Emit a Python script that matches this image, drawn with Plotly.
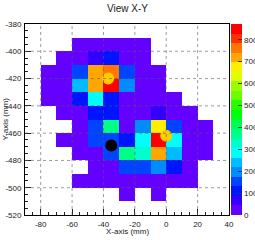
import colorsys
import plotly.graph_objects as go

# ---------------- data ----------------
x_centers = [-85, -75, -65, -55, -45, -35, -25, -15, -5, 5, 15, 25, 35]
# rows listed from top (y=-385) to bottom (y=-515)
y_centers_top_down = [-385, -395, -405, -415, -425, -435, -445, -455, -465, -475, -485, -495, -505, -515]
N = None
z_top_down = [
    [N, N, N, N, N, N, N, N, N, N, N, N, N],                      # -385
    [N, N, N, 18, 22, 25, 15, 12, N, N, N, N, N],                 # -395
    [N, N, 14, 20, 65, 108, 22, 16, N, N, N, N, N],               # -405
    [N, 12, 20, 152, 718, 762, 152, 20, 14, N, N, N, N],          # -415
    [N, 15, 24, 239, 718, 848, 196, 25, 18, N, N, N, N],          # -425
    [N, 13, 22, 108, 283, 108, 30, 22, 20, 12, N, N, N],          # -435
    [N, N, 16, 28, 108, 108, 25, 35, 65, 22, 14, N, N],           # -445
    [N, N, N, 20, 152, 370, 30, 196, 674, 152, 26, 15, N],        # -455
    [N, N, 12, 22, 152, 152, 109, 283, 848, 283, 30, 18, N],      # -465
    [N, N, N, 15, 35, 152, 370, 326, 718, 239, 28, 14, N],        # -475
    [N, N, N, N, 22, 30, 152, 152, 196, 109, 20, N, N],           # -485
    [N, N, N, 12, 18, 22, 30, 26, 32, 20, 14, N, N],              # -495
    [N, N, N, N, N, N, 14, N, 16, N, N, N, N],                    # -505
    [N, N, N, N, N, N, N, N, N, N, N, N, N],                      # -515
]
y_centers = list(reversed(y_centers_top_down))
z_values = list(reversed(z_top_down))

marker_x = [-37, 0, -35]
marker_y = [-420, -462, -469]
marker_colors = ["#FFCC00", "#FFCC00", "#000000"]

x_tick_vals = [-80, -60, -40, -20, 0, 20, 40]
x_tick_text = ["-80", "-60", "-40", "-20", "0", "20", "40"]
y_tick_vals = [-520, -500, -480, -460, -440, -420, -400, -380]
y_tick_text = ["-520", "-500", "-480", "-460", "-440", "-420", "-400", "-380"]
z_tick_vals = [0, 100, 200, 300, 400, 500, 600, 700, 800]
z_tick_text = ["0", "100", "200", "300", "400", "500", "600", "700", "800"]

x_range = [-90, 40]
y_range = [-520, -380]
z_range = [0, 872]

# ---------------- ROOT "pretty" palette, 20 contours ----------------
n_cont = 20
n_col = 50
colorscale = []
for i in range(n_cont):
    idx = int((i + 0.99) * n_col / n_cont)
    hue = 280 - (idx + 1) * (280.0 / n_col)
    r, g, b = colorsys.hls_to_rgb(hue / 360.0, 0.5, 1.0)
    c = "rgb(%d,%d,%d)" % (round(r * 255), round(g * 255), round(b * 255))
    colorscale.append([i / n_cont, c])
    colorscale.append([(i + 1) / n_cont, c])

fig = go.Figure()
fig.add_trace(go.Heatmap(
    x=x_centers, y=y_centers, z=z_values,
    zmin=z_range[0], zmax=z_range[1],
    colorscale=colorscale,
    hoverongaps=False,
    colorbar=dict(
        x=1.008, xanchor="left", xpad=0,
        y=0.5, yanchor="middle", ypad=0,
        len=1.0, lenmode="fraction",
        thickness=11, thicknessmode="pixels",
        outlinewidth=0,
        tickmode="array", tickvals=z_tick_vals, ticktext=z_tick_text,
        ticks="inside", ticklen=4, tickcolor="#333",
        tickfont=dict(family="Liberation Sans, Arial, sans-serif", size=8, color="#222"),
    ),
))
fig.add_trace(go.Scatter(
    x=marker_x, y=marker_y, mode="markers",
    marker=dict(size=12, color=marker_colors, line=dict(width=0)),
    showlegend=False, hoverinfo="skip",
))

# grid lines drawn above the cells (as in ROOT)
shapes = []
for v in x_tick_vals:
    if x_range[0] < v < x_range[1]:
        shapes.append(dict(type="line", xref="x", yref="paper", x0=v, x1=v, y0=0, y1=1,
                           line=dict(color="rgba(90,90,90,0.6)", width=1, dash="dot"), layer="above"))
for v in y_tick_vals:
    if y_range[0] < v < y_range[1]:
        shapes.append(dict(type="line", xref="paper", yref="y", x0=0, x1=1, y0=v, y1=v,
                           line=dict(color="rgba(90,90,90,0.6)", width=1, dash="dot"), layer="above"))

font_family = "Liberation Sans, Arial, Helvetica, sans-serif"
fig.update_layout(
    width=255, height=240,
    margin=dict(l=25, r=26, t=24, b=25, autoexpand=False),
    paper_bgcolor="white", plot_bgcolor="white",
    showlegend=False,
    shapes=shapes,
    font=dict(family=font_family, size=8, color="#222"),
    annotations=[
        dict(text="View X-Y", xref="paper", yref="paper", x=0.5, y=1, yshift=16,
             showarrow=False, font=dict(size=10, color="#222", family=font_family),
             xanchor="center", yanchor="middle"),
        dict(text="X-axis (mm)", xref="paper", yref="paper", x=0.5, y=0, yshift=-16,
             showarrow=False, font=dict(size=8, color="#222", family=font_family),
             xanchor="center", yanchor="middle"),
        dict(text="Y-axis (mm)", xref="paper", yref="paper", x=0, y=0.5, xshift=-20,
             textangle=-90, showarrow=False, font=dict(size=8, color="#222", family=font_family),
             xanchor="center", yanchor="middle"),
    ],
)
fig.update_xaxes(
    range=x_range, tickmode="array", tickvals=x_tick_vals, ticktext=x_tick_text,
    ticks="inside", ticklen=6, tickcolor="#222", showgrid=False, zeroline=False,
    showline=True, linecolor="black", linewidth=1, mirror=True,
    minor=dict(tickmode="linear", tick0=0, dtick=5, ticks="inside", ticklen=3, tickcolor="#222", showgrid=False),
    tickfont=dict(size=8, color="#222"), ticklabelstandoff=1, automargin=False,
)
fig.update_yaxes(
    range=y_range, tickmode="array", tickvals=y_tick_vals, ticktext=y_tick_text,
    ticks="inside", ticklen=6, tickcolor="#222", showgrid=False, zeroline=False,
    showline=True, linecolor="black", linewidth=1, mirror=True,
    minor=dict(tickmode="linear", tick0=0, dtick=5, ticks="inside", ticklen=3, tickcolor="#222", showgrid=False),
    tickfont=dict(size=8, color="#222"), ticklabelstandoff=1, automargin=False,
)

fig.write_html(
    "out.html",
    config={"displayModeBar": False, "staticPlot": True},
    post_script="document.body.style.margin='0';document.body.style.overflow='hidden';",
)
